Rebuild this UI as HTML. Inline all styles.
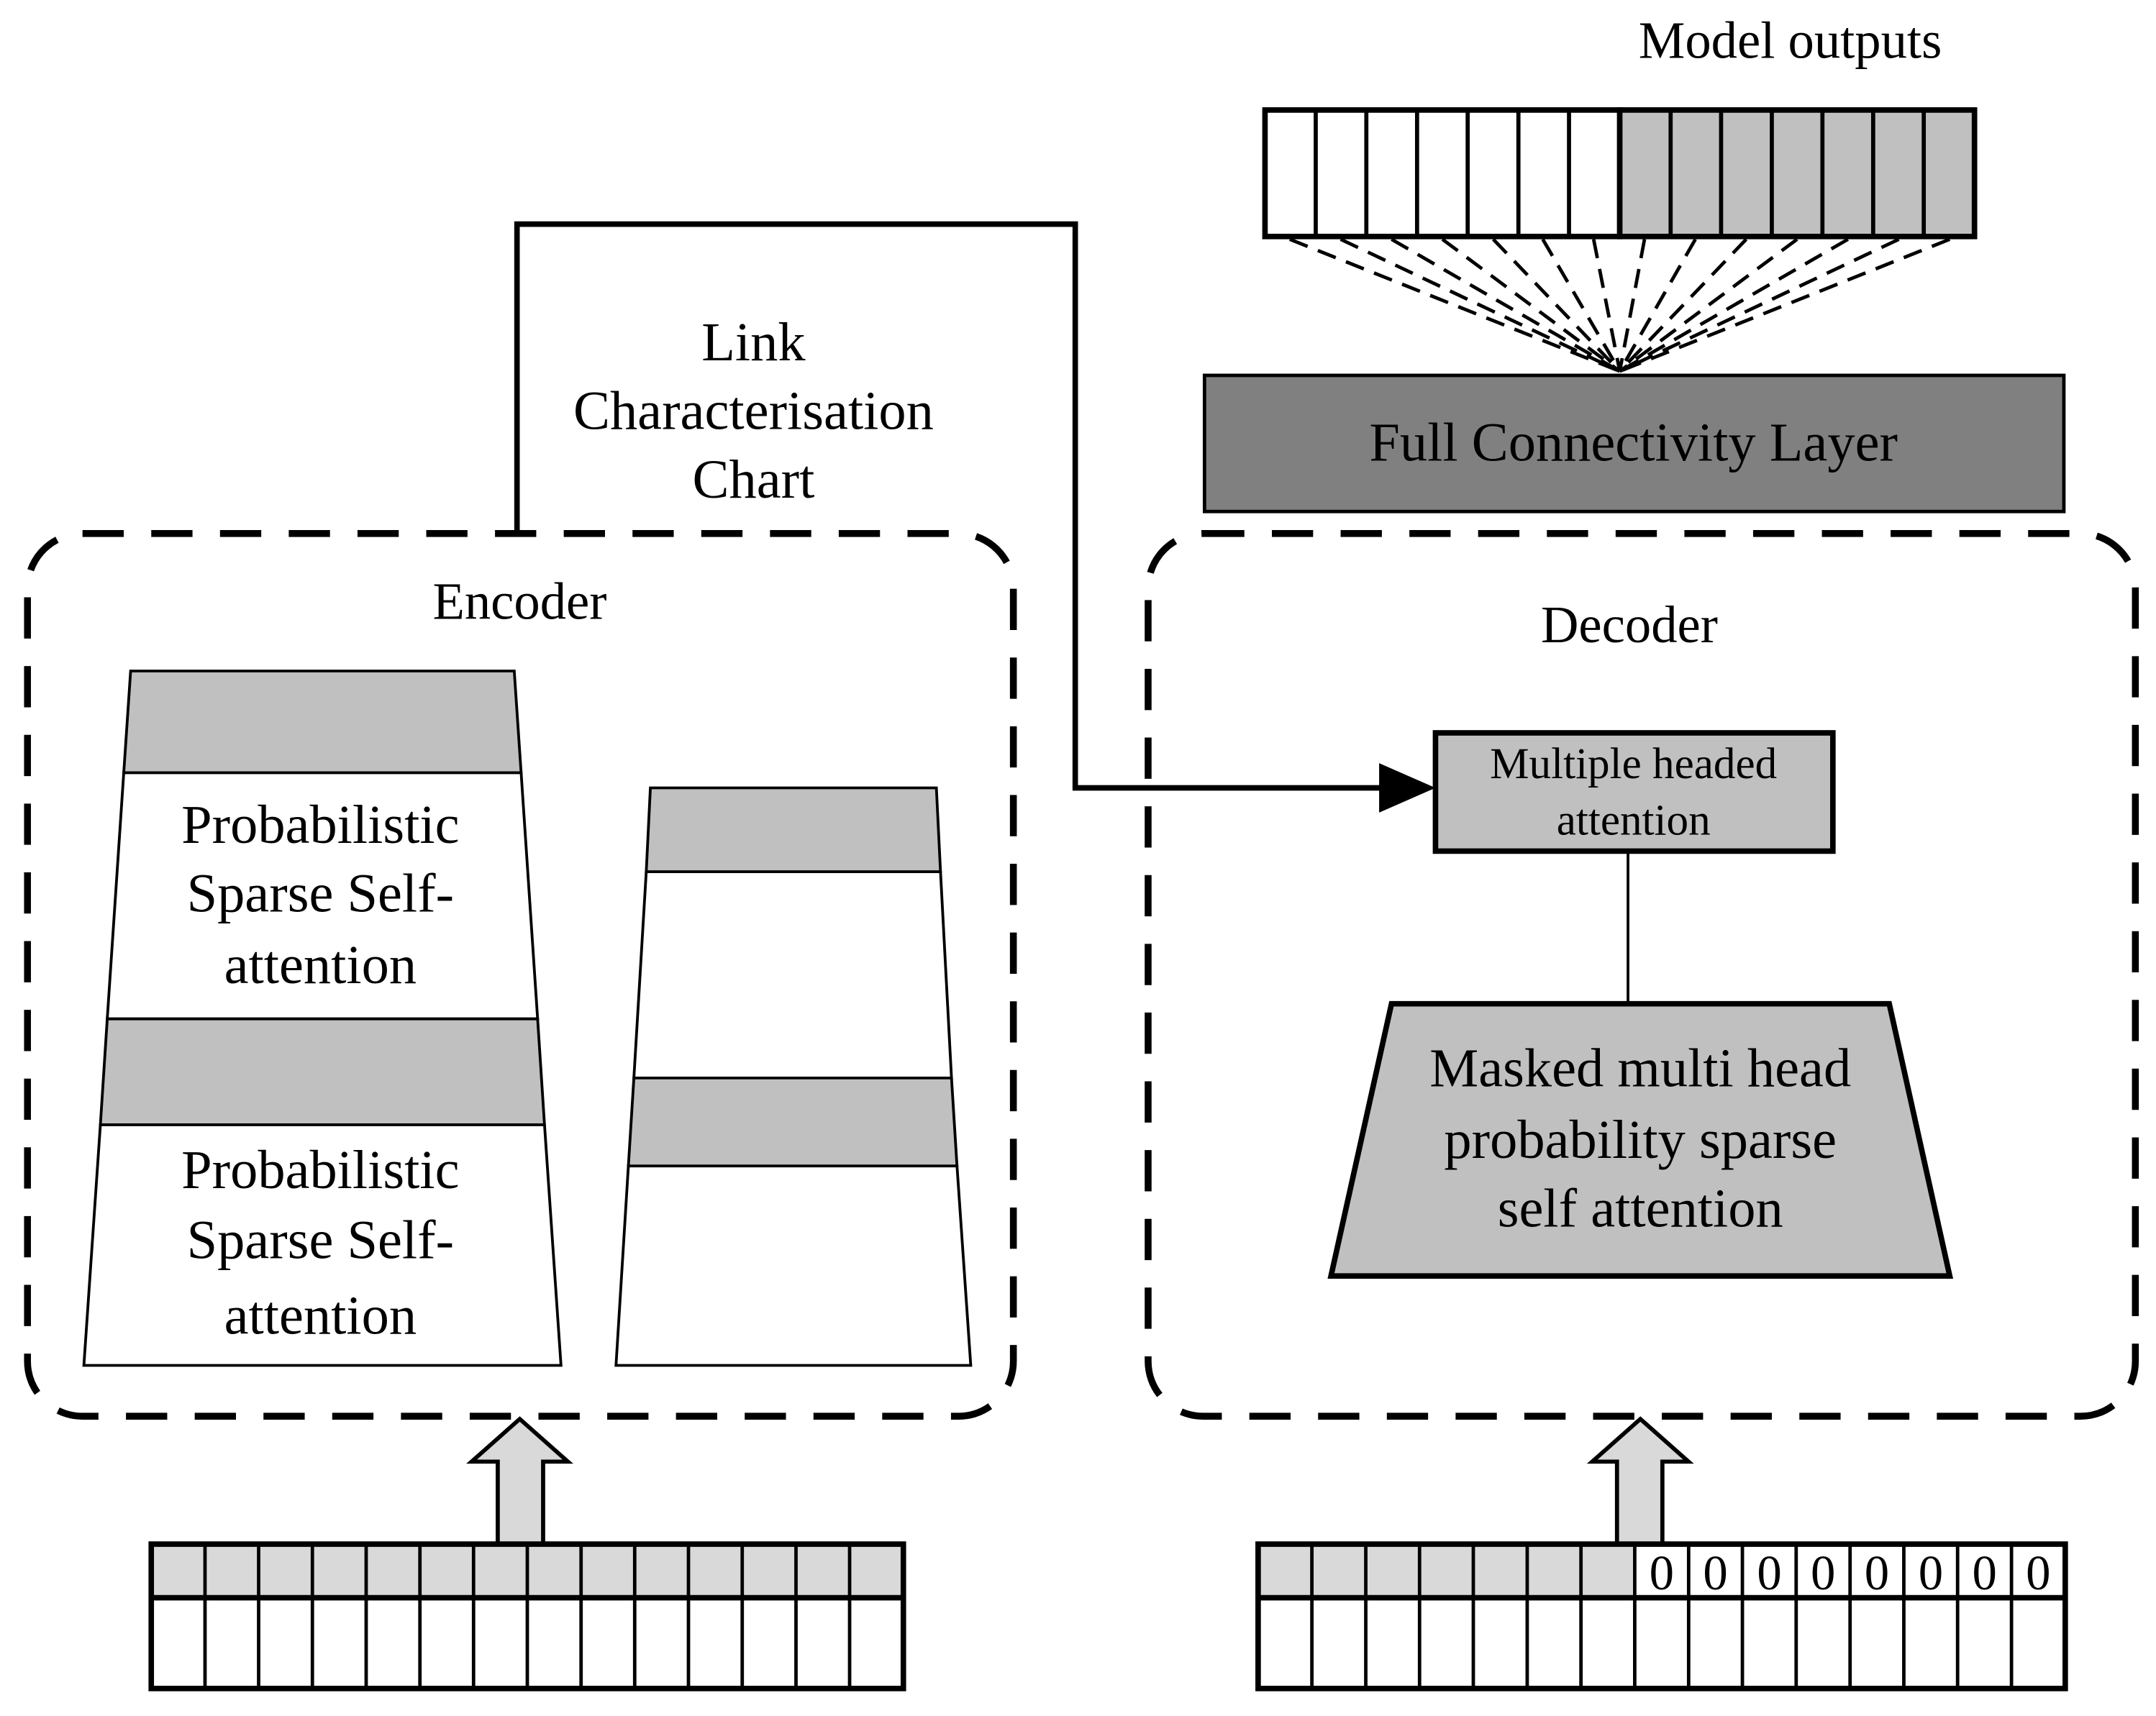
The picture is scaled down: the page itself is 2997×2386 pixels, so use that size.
<!DOCTYPE html>
<html><head><meta charset="utf-8"><style>
html,body{margin:0;padding:0;background:#fff;}
svg{display:block;}
text{font-family:"Liberation Serif",serif;fill:#000;}
</style></head><body>
<svg width="2997" height="2386" viewBox="0 0 1568 1248" preserveAspectRatio="none" xmlns="http://www.w3.org/2000/svg">
<rect width="1568" height="1248" fill="#fff"/>
<!-- Model outputs -->
<text x="1302" y="42" font-size="38" text-anchor="middle">Model outputs</text>
<g stroke="#000" stroke-width="4">
<rect x="920" y="80" width="258" height="92" fill="#fff"/>
<rect x="1178" y="80" width="258" height="92" fill="#c0c0c0"/>
</g>
<g stroke="#000" stroke-width="3">
<line x1="956.9" y1="80" x2="956.9" y2="172"/><line x1="993.7" y1="80" x2="993.7" y2="172"/><line x1="1030.6" y1="80" x2="1030.6" y2="172"/><line x1="1067.4" y1="80" x2="1067.4" y2="172"/><line x1="1104.3" y1="80" x2="1104.3" y2="172"/><line x1="1141.1" y1="80" x2="1141.1" y2="172"/><line x1="1215" y1="80" x2="1215" y2="172"/><line x1="1251.7" y1="80" x2="1251.7" y2="172"/><line x1="1288.6" y1="80" x2="1288.6" y2="172"/><line x1="1325.4" y1="80" x2="1325.4" y2="172"/><line x1="1362.3" y1="80" x2="1362.3" y2="172"/><line x1="1399.1" y1="80" x2="1399.1" y2="172"/>
</g>
<g stroke="#000" stroke-width="2.5" stroke-dasharray="14,8">
<line x1="938" y1="174" x2="1178" y2="270"/><line x1="975" y1="174" x2="1178" y2="270"/><line x1="1012" y1="174" x2="1178" y2="270"/><line x1="1049" y1="174" x2="1178" y2="270"/><line x1="1086" y1="174" x2="1178" y2="270"/><line x1="1122" y1="174" x2="1178" y2="270"/><line x1="1159" y1="174" x2="1178" y2="270"/><line x1="1196" y1="174" x2="1178" y2="270"/><line x1="1233" y1="174" x2="1178" y2="270"/><line x1="1270" y1="174" x2="1178" y2="270"/><line x1="1307" y1="174" x2="1178" y2="270"/><line x1="1344" y1="174" x2="1178" y2="270"/><line x1="1381" y1="174" x2="1178" y2="270"/><line x1="1418" y1="174" x2="1178" y2="270"/>
</g>
<!-- FC layer -->
<rect x="876" y="273" width="625" height="99" fill="#808080" stroke="#000" stroke-width="2.5"/>
<text x="1188" y="335" font-size="40" text-anchor="middle">Full Connectivity Layer</text>
<!-- dashed containers -->
<g fill="none" stroke="#000" stroke-width="5" stroke-dasharray="30,20">
<rect x="20" y="388" width="717" height="642" rx="40"/>
<rect x="835" y="388" width="718" height="642" rx="40"/>
</g>
<text x="378" y="450" font-size="38" text-anchor="middle">Encoder</text>
<text x="1185" y="467" font-size="38" text-anchor="middle">Decoder</text>
<!-- Link path -->
<polyline points="376,388 376,163 782,163 782,573 1008,573" fill="none" stroke="#000" stroke-width="4"/>
<polygon points="1003,555 1044,573 1003,591" fill="#000"/>
<text font-size="40" text-anchor="middle"><tspan x="548" y="262">Link</tspan><tspan x="548" y="312">Characterisation</tspan><tspan x="548" y="362">Chart</tspan></text>
<!-- Multiple headed attention -->
<rect x="1044" y="533" width="289" height="86" fill="#c0c0c0" stroke="#000" stroke-width="4"/>
<text font-size="32" text-anchor="middle"><tspan x="1188" y="566">Multiple headed</tspan><tspan x="1188" y="607">attention</tspan></text>
<line x1="1184" y1="619" x2="1184" y2="730" stroke="#000" stroke-width="2"/>
<polygon points="1012,730 1374,730 1418,928 968,928" fill="#c0c0c0" stroke="#000" stroke-width="4"/>
<text font-size="40" text-anchor="middle"><tspan x="1193" y="790">Masked multi head</tspan><tspan x="1193" y="842">probability sparse</tspan><tspan x="1193" y="892">self attention</tspan></text>
<!-- Encoder left stack -->
<polygon points="95,488 374,488 379,562 90,562" fill="#c0c0c0" stroke="#000" stroke-width="2"/>
<polygon points="90,562 379,562 391,741 78,741" fill="#fff" stroke="#000" stroke-width="2"/>
<polygon points="78,741 391,741 396,818 73,818" fill="#c0c0c0" stroke="#000" stroke-width="2"/>
<polygon points="73,818 396,818 408,993 61,993" fill="#fff" stroke="#000" stroke-width="2"/>
<text font-size="40" text-anchor="middle"><tspan x="233" y="613">Probabilistic</tspan><tspan x="233" y="663">Sparse Self-</tspan><tspan x="233" y="715">attention</tspan><tspan x="233" y="864">Probabilistic</tspan><tspan x="233" y="915">Sparse Self-</tspan><tspan x="233" y="970">attention</tspan></text>
<!-- Encoder right stack -->
<polygon points="473,573 681,573 684,634 470,634" fill="#c0c0c0" stroke="#000" stroke-width="2"/>
<polygon points="470,634 684,634 692,784 461,784" fill="#fff" stroke="#000" stroke-width="2"/>
<polygon points="461,784 692,784 696,848 457,848" fill="#c0c0c0" stroke="#000" stroke-width="2"/>
<polygon points="457,848 696,848 706,993 448,993" fill="#fff" stroke="#000" stroke-width="2"/>
<!-- arrows -->
<polygon points="362,1123 362,1063 343,1063 378,1032 413,1063 395,1063 395,1123" fill="#d9d9d9" stroke="#000" stroke-width="3"/>
<polygon points="1176,1123 1176,1063 1158,1063 1193,1032 1228,1063 1209,1063 1209,1123" fill="#d9d9d9" stroke="#000" stroke-width="3"/>
<!-- Encoder input array -->
<rect x="110" y="1123" width="547" height="39" fill="#d9d9d9"/>
<rect x="110" y="1123" width="547" height="105" fill="none" stroke="#000" stroke-width="4"/>
<line x1="110" y1="1162" x2="657" y2="1162" stroke="#000" stroke-width="4"/>
<g stroke="#000" stroke-width="2.5">
<line x1="149.1" y1="1123" x2="149.1" y2="1228"/><line x1="188.1" y1="1123" x2="188.1" y2="1228"/><line x1="227.2" y1="1123" x2="227.2" y2="1228"/><line x1="266.3" y1="1123" x2="266.3" y2="1228"/><line x1="305.4" y1="1123" x2="305.4" y2="1228"/><line x1="344.4" y1="1123" x2="344.4" y2="1228"/><line x1="383.5" y1="1123" x2="383.5" y2="1228"/><line x1="422.6" y1="1123" x2="422.6" y2="1228"/><line x1="461.6" y1="1123" x2="461.6" y2="1228"/><line x1="500.7" y1="1123" x2="500.7" y2="1228"/><line x1="539.8" y1="1123" x2="539.8" y2="1228"/><line x1="578.9" y1="1123" x2="578.9" y2="1228"/><line x1="617.9" y1="1123" x2="617.9" y2="1228"/>
</g>
<!-- Decoder input array -->
<rect x="915" y="1123" width="274" height="39" fill="#d9d9d9"/>
<rect x="915" y="1123" width="587" height="105" fill="none" stroke="#000" stroke-width="4"/>
<line x1="915" y1="1162" x2="1502" y2="1162" stroke="#000" stroke-width="4"/>
<g stroke="#000" stroke-width="2.5">
<line x1="954.1" y1="1123" x2="954.1" y2="1228"/><line x1="993.3" y1="1123" x2="993.3" y2="1228"/><line x1="1032.4" y1="1123" x2="1032.4" y2="1228"/><line x1="1071.5" y1="1123" x2="1071.5" y2="1228"/><line x1="1110.7" y1="1123" x2="1110.7" y2="1228"/><line x1="1149.8" y1="1123" x2="1149.8" y2="1228"/><line x1="1188.9" y1="1123" x2="1188.9" y2="1228"/><line x1="1228.1" y1="1123" x2="1228.1" y2="1228"/><line x1="1267.2" y1="1123" x2="1267.2" y2="1228"/><line x1="1306.3" y1="1123" x2="1306.3" y2="1228"/><line x1="1345.5" y1="1123" x2="1345.5" y2="1228"/><line x1="1384.6" y1="1123" x2="1384.6" y2="1228"/><line x1="1423.7" y1="1123" x2="1423.7" y2="1228"/><line x1="1462.9" y1="1123" x2="1462.9" y2="1228"/>
</g>
<g font-size="36" text-anchor="middle">
<text x="1208.5" y="1156">0</text><text x="1247.6" y="1156">0</text><text x="1286.8" y="1156">0</text><text x="1325.9" y="1156">0</text><text x="1365" y="1156">0</text><text x="1404.2" y="1156">0</text><text x="1443.3" y="1156">0</text><text x="1482.4" y="1156">0</text>
</g>
</svg>
</body></html>
